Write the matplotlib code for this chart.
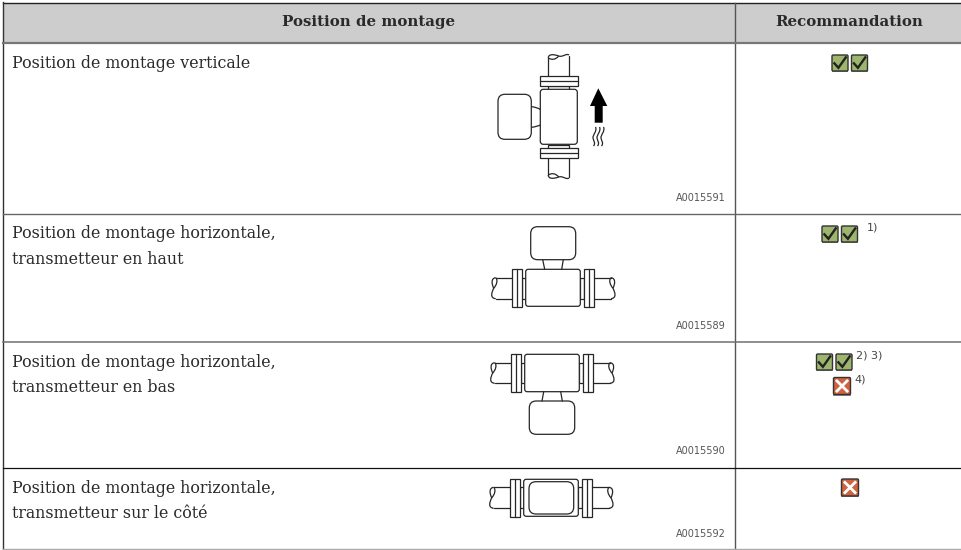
import matplotlib
matplotlib.use("Agg")
import matplotlib.pyplot as plt
from matplotlib.patches import FancyBboxPatch, PathPatch, Polygon, Rectangle
from matplotlib.path import Path

# table content
header_labels = ["Position de montage", "Recommandation"]
row_labels = [
    ["Position de montage verticale"],
    ["Position de montage horizontale,", "transmetteur en haut"],
    ["Position de montage horizontale,", "transmetteur en bas"],
    ["Position de montage horizontale,", "transmetteur sur le côté"],
]
figure_codes = ["A0015591", "A0015589", "A0015590", "A0015592"]
row_notes = ["", "1)", "2) 3)", ""]
extra_note = "4)"

TEXT = "#2a2a2a"
NOTE = "#444444"
LINE = "#262626"
GREEN = "#9db56d"
RED = "#d0633f"
serif = "DejaVu Serif"

fig = plt.figure(figsize=(9.62, 5.5), dpi=100)
ax = fig.add_axes([0, 0, 1, 1])
ax.set_xlim(0, 962)
ax.set_ylim(550, 0)
ax.axis("off")


def box(x0, y0, x1, y1, r=4, fc="white", lw=0.9, ec=LINE, z=3):
    ax.add_patch(FancyBboxPatch((x0, y0), x1 - x0, y1 - y0,
                                boxstyle="round,pad=0,rounding_size=%g" % r,
                                fc=fc, ec=ec, lw=lw, zorder=z))


def rect(x0, y0, x1, y1, z=2):
    ax.add_patch(Rectangle((x0, y0), x1 - x0, y1 - y0, fc="white", ec=LINE, lw=0.9, zorder=z))


def line(xs, ys, z=4, lw=0.9):
    ax.plot(xs, ys, color=LINE, lw=lw, zorder=z, solid_capstyle="round")


def curve(points, z=4):
    codes = [Path.MOVETO] + [Path.CURVE4] * (len(points) - 1)
    ax.add_patch(PathPatch(Path(points, codes), fc="none", ec=LINE, lw=0.9, zorder=z))


def pipe_end(x, y0, y1, side):
    # broken pipe end, side = 1 for the left end, -1 for the right end
    h = y1 - y0
    s = side
    curve([(x + 4 * s, y0), (x - 1 * s, y0 + .03 * h), (x + 0 * s, y0 + .3 * h), (x + 2 * s, y0 + .5 * h),
           (x + 0 * s, y0 + .7 * h), (x - 2 * s, y0 + .97 * h), (x + 4 * s, y1)])
    curve([(x + 4 * s, y0), (x + 6.5 * s, y0 + .12 * h), (x + 5 * s, y0 + .35 * h), (x + 2 * s, y0 + .5 * h)])


def pipe_end_vert(y, x0, x1, side):
    w = x1 - x0
    s = side
    curve([(x0, y + 2 * s), (x0, y - 2 * s), (x0 + .25 * w, y - 2 * s), (x0 + .5 * w, y),
           (x0 + .7 * w, y + 1.5 * s), (x1 - 3, y - 3 * s), (x1, y - 1 * s)])
    curve([(x0, y + 2 * s), (x0 + .15 * w, y + 4 * s), (x0 + .35 * w, y + 4 * s), (x0 + .5 * w, y)])


def flange_h(x0, x1, y0, y1):
    rect(x0, y0, x1, y1, z=3)
    line([(x0 + x1) / 2] * 2, [y0, y1])


def horizontal_meter(dx, y_body0, y_body1, y_pipe0, y_pipe1):
    # shared pipe, flanges and body of the horizontal layouts
    for x0, x1 in [(522.3, 525.7), (580.3, 584)]:
        rect(x0 + dx, y_pipe0, x1 + dx, y_pipe1)
    line([491.7 + dx + 4, 512 + dx], [y_pipe0, y_pipe0])
    line([491.7 + dx + 4, 512 + dx], [y_pipe1, y_pipe1])
    line([594.3 + dx, 615 + dx - 4], [y_pipe0, y_pipe0])
    line([594.3 + dx, 615 + dx - 4], [y_pipe1, y_pipe1])
    pipe_end(491.7 + dx, y_pipe0, y_pipe1, 1)
    pipe_end(615 + dx, y_pipe0, y_pipe1, -1)
    flange_h(512 + dx, 522.3 + dx, y_body0 - .3, y_body1 + .7)
    flange_h(584 + dx, 594.3 + dx, y_body0 - .3, y_body1 + .7)
    box(525.7 + dx, y_body0, 580.3 + dx, y_body1, r=2.5)


def draw_vertical_meter():
    line([548.3, 548.3], [58, 76]); line([569, 569], [56, 76])
    line([548.3, 548.3], [158, 175]); line([569, 569], [158, 177])
    pipe_end_vert(56, 548.3, 569, 1)
    pipe_end_vert(177, 548.3, 569, -1)
    rect(548.3, 86, 569, 90); rect(548.3, 145, 569, 148.5)
    for y0, y1 in [(76, 86), (148.3, 158.3)]:
        rect(540, y0, 578, y1, z=3)
        line([540, 578], [(y0 + y1) / 2] * 2)
    box(540.3, 89.3, 577.3, 144.3, r=3)
    curve([(531.3, 106.7), (535, 107), (538, 108), (540.3, 109.5)])
    curve([(531.3, 127.3), (535, 127), (538, 126), (540.3, 125)])
    box(498, 94.3, 531.3, 139.3, r=7)
    ax.add_patch(Polygon([(598.3, 88.3), (607.3, 106), (602.7, 106), (602.7, 122.7),
                          (594.7, 122.7), (594.7, 106), (590, 106)],
                         fc="black", ec="none", zorder=5))
    for dx in [0, 4, 8]:
        curve([(595.5 + dx, 127), (597.5 + dx, 131), (592.5 + dx, 135), (593 + dx, 138),
               (593.5 + dx, 141), (596 + dx, 143), (593.5 + dx, 146)])


def draw_icon(x, y, kind, size=16):
    fc = GREEN if kind == "ok" else RED
    ax.add_patch(Rectangle((x - .2, y + .7), size + .6, size + .3, fc="#8a8a8a", ec="none", zorder=3))
    box(x, y, x + size, y + size, r=1.2, fc=fc, lw=1.0, ec="#333333", z=4)
    if kind == "ok":
        ax.plot([x + .15 * size, x + .4 * size, x + .86 * size],
                [y + .52 * size, y + .8 * size, y + .15 * size],
                color="#222222", lw=1.7, zorder=5, solid_joinstyle="miter")
    else:
        for ys in [(.2, .8), (.8, .2)]:
            ax.plot([x + .2 * size, x + .8 * size], [y + ys[0] * size, y + ys[1] * size],
                    color="white", lw=2.0, zorder=5)


# header band and grid
ax.add_patch(Rectangle((3, 3), 959, 39.5, fc="#cdcdcd", ec="none", zorder=0))
ax.plot([3, 962], [2.5, 2.5], color="#222222", lw=1.0)
ax.plot([3, 3], [2, 549], color="#333333", lw=1.0)
ax.plot([735, 735], [3, 549], color="#555555", lw=1.0)
ax.plot([3, 962], [42.5, 42.5], color="#777777", lw=1.6)
ax.plot([3, 962], [214, 214], color="#666666", lw=1.0)
ax.plot([3, 962], [341.5, 341.5], color="#707070", lw=1.1)
ax.plot([3, 962], [467.5, 467.5], color="#111111", lw=0.9)
ax.plot([3, 962], [548.5, 548.5], color="#aaaaaa", lw=1.0)

# header text
ax.text(369, 22, header_labels[0], ha="center", va="center", family=serif,
        weight="bold", fontsize=10.8, color=TEXT)
ax.text(849, 22, header_labels[1], ha="center", va="center", family=serif,
        weight="bold", fontsize=10.8, color=TEXT)

# left column, one baseline per line
first_baseline = [68.3, 238.5, 367, 492.7]
for y, lines in zip(first_baseline, row_labels):
    for i, label in enumerate(lines):
        ax.text(12, y + i * 25, label, ha="left", va="baseline", family=serif,
                fontsize=11.4, color=TEXT)

# diagrams
draw_vertical_meter()

horizontal_meter(0, 269.3, 306.3, 277.7, 298.7)
line([542.7, 544.7], [259.7, 269.3]); line([563.3, 561.7], [259.7, 269.3])
box(530.7, 226.7, 575.7, 259.7, r=7)

horizontal_meter(-1, 354.3, 391.7, 362.7, 383.3)
line([543.7, 542], [391.7, 401]); line([560.7, 562.3], [391.7, 401])
box(529.3, 401, 574.7, 434.3, r=7)

horizontal_meter(-2, 479.3, 516.3, 487.3, 508.3)
box(529, 481.7, 573.7, 514, r=7, z=5)

# figure codes
code_y = [198.3, 326, 451, 534.3]
for y, code in zip(code_y, figure_codes):
    ax.text(726, y, code, ha="right", va="center", fontsize=7, color="#555555")

# recommendation icons
draw_icon(832, 55, "ok"); draw_icon(851.5, 55, "ok")
draw_icon(822, 226, "ok"); draw_icon(841.5, 226, "ok")
draw_icon(816.5, 354, "ok"); draw_icon(836, 354, "ok")
draw_icon(833.5, 377.5, "no", size=17)
draw_icon(841.5, 479, "no", size=17)

ax.text(866.5, 227, row_notes[1], ha="left", va="center", fontsize=8, color=NOTE)
ax.text(856, 355, row_notes[2], ha="left", va="center", fontsize=8, color=NOTE)
ax.text(854, 379, extra_note, ha="left", va="center", fontsize=8, color=NOTE)

plt.savefig("out.png", dpi=100)
